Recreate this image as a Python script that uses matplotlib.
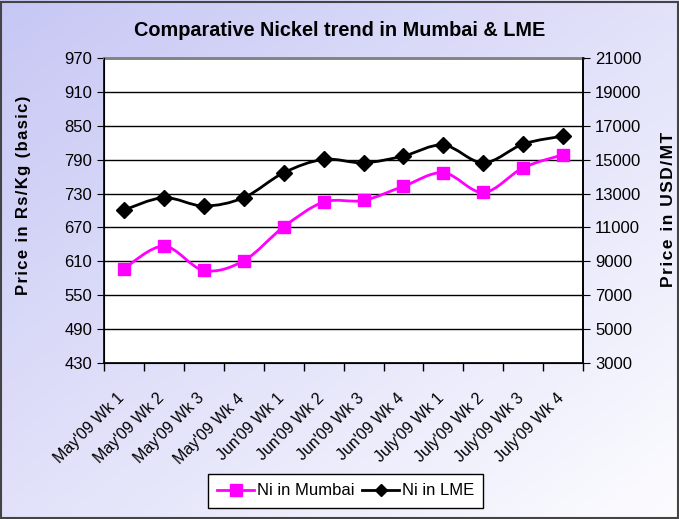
import numpy as np
import matplotlib
matplotlib.use("Agg")
import matplotlib.pyplot as plt
import matplotlib.transforms as mtransforms
from matplotlib.path import Path
from matplotlib.patches import PathPatch, Rectangle
from matplotlib.lines import Line2D

# chart data
weeks = ["May'09 Wk 1", "May'09 Wk 2", "May'09 Wk 3", "May'09 Wk 4",
         "Jun'09 Wk 1", "Jun'09 Wk 2", "Jun'09 Wk 3", "Jun'09 Wk 4",
         "July'09 Wk 1", "July'09 Wk 2", "July'09 Wk 3", "July'09 Wk 4"]
mumbai = [597, 637, 594, 611, 671, 715, 718, 743, 767, 732, 776, 799]
lme = [12030, 12760, 12270, 12760, 14230, 15020, 14820, 15220, 15870, 14820, 15930, 16400]

left_ticks = list(range(430, 971, 60))
right_ticks = list(range(3000, 21001, 2000))

plt.rcParams['font.family'] = ['Liberation Sans', 'DejaVu Sans']


def smooth_path(x, y):
    # excel style smoothed line: catmull-rom segments drawn as bezier curves
    pts = np.column_stack([x, y]).astype(float)
    verts = [pts[0]]
    codes = [Path.MOVETO]
    n = len(pts)
    for i in range(n - 1):
        p0 = pts[i - 1] if i > 0 else pts[i]
        p1 = pts[i]
        p2 = pts[i + 1]
        p3 = pts[i + 2] if i + 2 < n else pts[i + 1]
        c1 = p1 + (p2 - p0) / 6.0
        c2 = p2 - (p3 - p1) / 6.0
        verts += [c1, c2, p2]
        codes += [Path.CURVE4] * 3
    return Path(verts, codes)


def spaced(s):
    # a little extra letter spacing, like the original
    return '\u200a'.join(s)


fig = plt.figure(figsize=(6.79, 5.19), dpi=100)

# diagonal gradient background, lavender top-left to white bottom-right
bg = fig.add_axes([0, 0, 1, 1], zorder=-10)
gx, gy = np.meshgrid(np.linspace(0, 1, 200), np.linspace(0, 1, 200))
t = np.clip(0.5 * gx + 0.5 * (1 - gy), 0, 1)
c0 = np.array([0.78, 0.78, 0.96])
c1 = np.array([0.99, 0.99, 1.0])
img = c0[None, None, :] * (1 - t[..., None]) + c1[None, None, :] * t[..., None]
bg.imshow(img, extent=[0, 1, 0, 1], aspect='auto', origin='lower')
bg.add_patch(Rectangle((0.002, 0.002), 0.996, 0.994, fill=False,
                       edgecolor='#444444', linewidth=1.5, transform=bg.transAxes))
bg.axis('off')

ax = fig.add_axes([0.153, 0.3006, 0.706, 0.5874])
ax.set_facecolor('white')
x = np.arange(len(weeks))
ax.set_xlim(-0.5, len(weeks) - 0.5)
ax.set_ylim(430, 970)
ax.set_yticks(left_ticks)
ax.yaxis.grid(True, color='black', linewidth=1.0)
ax.set_axisbelow(True)
ax.tick_params(axis='y', direction='out', length=5, labelsize=12, colors='black')

# tick marks between categories, labels drawn under each category
ax.set_xticks(np.arange(-0.5, len(weeks), 1.0))
ax.set_xticklabels([])
ax.tick_params(axis='x', which='major', direction='out', length=6, width=1)
offset = mtransforms.ScaledTranslation(-2 / 100, -33 / 100, fig.dpi_scale_trans)
for xi, lab in zip(x, weeks):
    ax.text(xi, 0, lab, rotation=45, ha='right', va='center',
            rotation_mode='anchor', fontsize=11.5,
            transform=ax.get_xaxis_transform() + offset)

ax.spines['top'].set_color('#808080')
ax.spines['top'].set_linewidth(2)
for s in ['left', 'right', 'bottom']:
    ax.spines[s].set_linewidth(1.2)

ax.add_patch(PathPatch(smooth_path(x, mumbai), facecolor='none',
                       edgecolor='#FF00FF', linewidth=2, zorder=3))
ax.plot(x, mumbai, linestyle='none', marker='s', markersize=9,
        color='#FF00FF', zorder=4)

ax2 = ax.twinx()
ax2.set_ylim(3000, 21000)
ax2.set_yticks(right_ticks)
ax2.tick_params(axis='y', direction='out', length=5, labelsize=12)
ax2.spines['top'].set_visible(False)
ax2.spines['right'].set_linewidth(1.2)
ax2.add_patch(PathPatch(smooth_path(x, lme), facecolor='none',
                        edgecolor='black', linewidth=2, zorder=3))
ax2.plot(x, lme, linestyle='none', marker='D', markersize=8,
         color='black', zorder=4)

fig.text(0.034, 0.624, spaced('Price in Rs/Kg (basic)'), rotation=90,
         ha='center', va='center', fontsize=12, fontweight='bold')
fig.text(0.984, 0.597, spaced('Price in USD/MT'), rotation=90,
         ha='center', va='center', fontsize=12.5, fontweight='bold')

fig.text(0.5, 0.942, 'Comparative Nickel trend in Mumbai & LME', ha='center',
         va='center', fontsize=14.3, fontweight='bold')

handles = [Line2D([], [], color='#FF00FF', marker='s', markersize=9, linewidth=2),
           Line2D([], [], color='black', marker='D', markersize=6, linewidth=2)]
leg = fig.legend(handles, ['Ni in Mumbai', 'Ni in LME'], loc='center',
                 bbox_to_anchor=(0.509, 0.054), ncol=2, fancybox=False,
                 edgecolor='black', framealpha=1, fontsize=12,
                 handlelength=2.2, handletextpad=0.15, columnspacing=0.5,
                 borderpad=0.55, borderaxespad=0)
leg.get_frame().set_linewidth(1)

fig.savefig('out.png', dpi=100)
